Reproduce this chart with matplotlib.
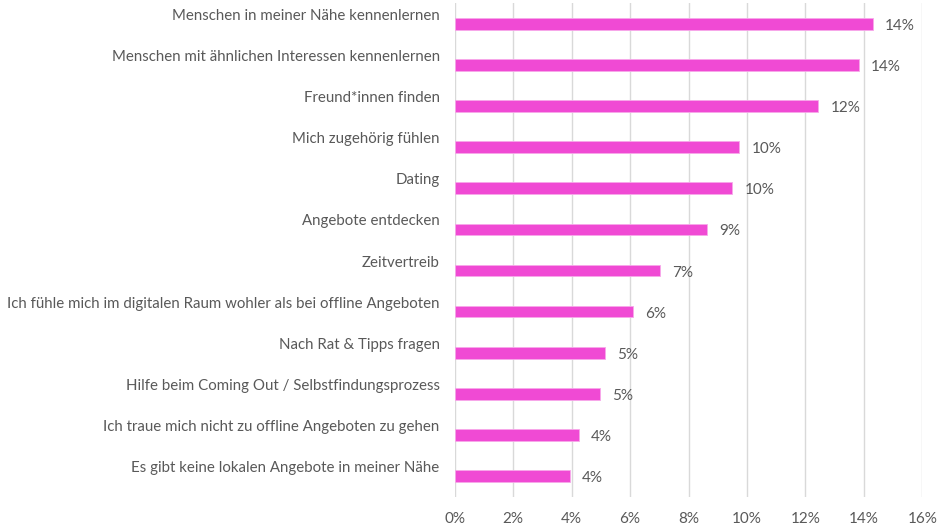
import numpy as np
import matplotlib.pyplot as plt
from matplotlib.ticker import FuncFormatter

# answers, top to bottom
categories = [
    "Menschen in meiner Nähe kennenlernen",
    "Menschen mit ähnlichen Interessen kennenlernen",
    "Freund*innen finden",
    "Mich zugehörig fühlen",
    "Dating",
    "Angebote entdecken",
    "Zeitvertreib",
    "Ich fühle mich im digitalen Raum wohler als bei offline Angeboten",
    "Nach Rat & Tipps fragen",
    "Hilfe beim Coming Out / Selbstfindungsprozess",
    "Ich traue mich nicht zu offline Angeboten zu gehen",
    "Es gibt keine lokalen Angebote in meiner Nähe",
]
shares = [0.1432, 0.1384, 0.1244, 0.0974, 0.0950, 0.0864,
          0.0703, 0.0609, 0.0513, 0.0497, 0.0426, 0.0394]
xticks = [0, 0.02, 0.04, 0.06, 0.08, 0.10, 0.12, 0.14, 0.16]

BAR_COLOR = "#F04AD4"
TEXT_COLOR = "#595959"
GRID_COLOR = "#D9D9D9"

plt.rcParams["font.family"] = ["Lato", "DejaVu Sans"]

fig = plt.figure(figsize=(9.45, 5.31), dpi=100)
ax = fig.add_axes([0.4812, 0.064, 0.4948, 0.9304])

pos = np.arange(len(categories))
ax.barh(pos, shares, height=0.29, color=BAR_COLOR, edgecolor="#F7A8EA",
        linewidth=0.6, zorder=3)

for y, v, name in zip(pos, shares, categories):
    ax.annotate(f"{v*100:.0f}%", (v, y), xytext=(12, -2), textcoords="offset pixels",
                ha="left", va="center", fontsize=11, color=TEXT_COLOR)
    ax.annotate(name, (0, y), xytext=(-15, 8), textcoords="offset pixels",
                ha="right", va="center", fontsize=10.8, color=TEXT_COLOR,
                annotation_clip=False)

ax.set_xlim(0, 0.16)
ax.set_ylim(len(categories) - 0.48, -0.52)
ax.set_xticks(xticks)
ax.xaxis.set_major_formatter(FuncFormatter(lambda x, _: f"{x*100:.0f}%"))
ax.set_yticks([])
ax.tick_params(axis="x", length=0, pad=11, labelsize=11, labelcolor=TEXT_COLOR)
ax.grid(axis="x", color=GRID_COLOR, linewidth=1, zorder=0)
for s in ax.spines.values():
    s.set_visible(False)

fig.savefig("out.png", dpi=100)
